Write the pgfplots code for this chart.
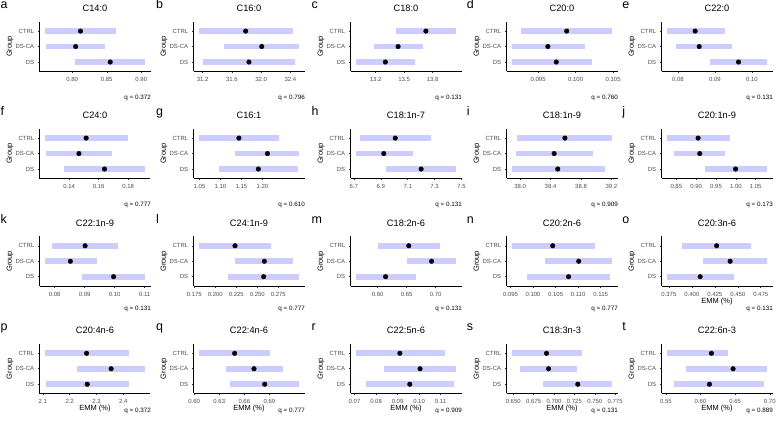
\documentclass[border=0pt]{standalone}
\usepackage{fontspec}
\setmainfont{Liberation Sans}
\usepackage{pgfplots}
\pgfplotsset{compat=1.18}
\definecolor{barcol}{RGB}{204,204,255}
\definecolor{gray30}{RGB}{77,77,77}
\definecolor{gray20}{RGB}{51,51,51}
\pgfplotsset{
 panel/.style={
   scale only axis, width=111bp, height=49.5bp, anchor=south west,
   ymin=0.4, ymax=3.6, ytick={1,2,3}, yticklabels={DS,DS-CA,CTRL},
   enlarge x limits=0.05,
   axis lines*=left, axis line style={black, line width=0.6bp},
   tick pos=left, tick align=outside, major tick length=1.8bp,
   every tick/.style={gray20, line width=0.5bp},
   tick label style={font=\fontsize{6}{7}\selectfont, text=gray30},
   /pgf/number format/assume math mode=true,
   xticklabel style={anchor=base, yshift=-8.6bp},
   yticklabel style={anchor=east},
   title style={font=\fontsize{9.3}{11}\selectfont, at={(0.5,1)}, anchor=base, yshift=4.5bp},
   ylabel=Group,
   ylabel style={at={(axis description cs:-0.266,0.5)}, anchor=center, font=\fontsize{7.5}{9}\selectfont},
   xlabel style={at={(axis description cs:0.5,-0.31)}, anchor=center, font=\fontsize{7.5}{9}\selectfont},
   clip=false,
 },
 bar/.style={barcol, line width=5.8bp, line cap=butt, forget plot},
 pt/.style={only marks, mark=*, mark size=2.3bp, black},
}
\newcommand{\tag}[3]{\node[anchor=base west, inner sep=0pt, font=\fontsize{12.5}{14}\selectfont] at (#1bp,#2bp) {#3};}
\newcommand{\qv}[3]{\node[anchor=base east, inner sep=0pt, font=\fontsize{6.3}{7}\selectfont] at (#1bp,#2bp) {q = #3};}
\begin{document}
\begin{tikzpicture}
\useasboundingbox (0,0) rectangle (777bp,423bp);
% ---------------- Row 1
\begin{axis}[panel, at={(39.5bp,351.7bp)}, title={C14:0}, xtick={0.80,0.85,0.90}, xticklabels={0.80,0.85,0.90}]
\addplot[bar] coordinates {(0.760,3) (0.864,3)};
\addplot[bar] coordinates {(0.762,2) (0.847,2)};
\addplot[bar] coordinates {(0.804,1) (0.906,1)};
\addplot[pt] coordinates {(0.812,3) (0.805,2) (0.855,1)};
\end{axis}
\begin{axis}[panel, at={(193.5bp,351.7bp)}, title={C16:0}, xtick={31.2,31.6,32.0,32.4}, xticklabels={31.2,31.6,32.0,32.4}]
\addplot[bar] coordinates {(31.145,3) (32.432,3)};
\addplot[bar] coordinates {(31.494,2) (32.524,2)};
\addplot[bar] coordinates {(31.200,1) (32.469,1)};
\addplot[pt] coordinates {(31.789,3) (32.009,2) (31.834,1)};
\end{axis}
\begin{axis}[panel, at={(350.5bp,351.7bp)}, title={C18:0}, xtick={13.2,13.5,13.8}, xticklabels={13.2,13.5,13.8}]
\addplot[bar] coordinates {(13.415,3) (14.051,3)};
\addplot[bar] coordinates {(13.182,2) (13.694,2)};
\addplot[bar] coordinates {(12.988,1) (13.616,1)};
\addplot[pt] coordinates {(13.729,3) (13.436,2) (13.302,1)};
\end{axis}
\begin{axis}[panel, at={(506.5bp,351.7bp)}, title={C20:0}, xtick={0.095,0.100,0.105}, xticklabels={0.095,0.100,0.105}]
\addplot[bar] coordinates {(0.09276,3) (0.10491,3)};
\addplot[bar] coordinates {(0.09146,2) (0.10119,2)};
\addplot[bar] coordinates {(0.09146,1) (0.10217,1)};
\addplot[pt] coordinates {(0.09881,3) (0.0963,2) (0.09742,1)};
\end{axis}
\begin{axis}[panel, at={(661.5bp,351.7bp)}, title={C22:0}, xtick={0.08,0.09,0.10}, xticklabels={0.08,0.09,0.10}]
\addplot[bar] coordinates {(0.07691,3) (0.09273,3)};
\addplot[bar] coordinates {(0.07945,2) (0.09464,2)};
\addplot[bar] coordinates {(0.08855,1) (0.10418,1)};
\addplot[pt] coordinates {(0.08464,3) (0.08573,2) (0.09636,1)};
\end{axis}
% ---------------- Row 2
\begin{axis}[panel, at={(39.5bp,244.7bp)}, title={C24:0}, xtick={0.14,0.16,0.18}, xticklabels={0.14,0.16,0.18}]
\addplot[bar] coordinates {(0.12333,3) (0.17978,3)};
\addplot[bar] coordinates {(0.12400,2) (0.16933,2)};
\addplot[bar] coordinates {(0.13644,1) (0.19178,1)};
\addplot[pt] coordinates {(0.15156,3) (0.14667,2) (0.16400,1)};
\end{axis}
\begin{axis}[panel, at={(193.5bp,244.7bp)}, title={C16:1}, xtick={1.05,1.10,1.15,1.20}, xticklabels={1.05,1.10,1.15,1.20}]
\addplot[bar] coordinates {(1.0476,3) (1.2402,3)};
\addplot[bar] coordinates {(1.1343,2) (1.2884,2)};
\addplot[bar] coordinates {(1.0957,1) (1.2843,1)};
\addplot[pt] coordinates {(1.1439,3) (1.2121,2) (1.1904,1)};
\end{axis}
\begin{axis}[panel, at={(350.5bp,244.7bp)}, title={C18:1n-7}, xtick={6.7,6.9,7.1,7.3,7.5}, xticklabels={6.7,6.9,7.1,7.3,7.5}]
\addplot[bar] coordinates {(6.7425,3) (7.2725,3)};
\addplot[bar] coordinates {(6.7125,2) (7.1375,2)};
\addplot[bar] coordinates {(6.9425,1) (7.4625,1)};
\addplot[pt] coordinates {(7.0075,3) (6.9225,2) (7.2000,1)};
\end{axis}
\begin{axis}[panel, at={(506.5bp,244.7bp)}, title={C18:1n-9}, xtick={38.0,38.4,38.8,39.2}, xticklabels={38.0,38.4,38.8,39.2}]
\addplot[bar] coordinates {(37.966,3) (39.213,3)};
\addplot[bar] coordinates {(37.948,2) (38.955,2)};
\addplot[bar] coordinates {(37.888,1) (39.114,1)};
\addplot[pt] coordinates {(38.589,3) (38.447,2) (38.495,1)};
\end{axis}
\begin{axis}[panel, at={(661.5bp,244.7bp)}, title={C20:1n-9}, xtick={0.85,0.90,0.95,1.00,1.05}, xticklabels={0.85,0.90,0.95,1.00,1.05}]
\addplot[bar] coordinates {(0.8254,3) (0.9852,3)};
\addplot[bar] coordinates {(0.8451,2) (0.9730,2)};
\addplot[bar] coordinates {(0.9213,1) (1.0795,1)};
\addplot[pt] coordinates {(0.9049,3) (0.9090,2) (0.9992,1)};
\end{axis}
% ---------------- Row 3
\begin{axis}[panel, at={(39.5bp,137bp)}, title={C22:1n-9}, xtick={0.08,0.09,0.10,0.11}, xticklabels={0.08,0.09,0.10,0.11}]
\addplot[bar] coordinates {(0.07922,3) (0.10100,3)};
\addplot[bar] coordinates {(0.07665,2) (0.09408,2)};
\addplot[bar] coordinates {(0.08905,1) (0.11028,1)};
\addplot[pt] coordinates {(0.09017,3) (0.08525,2) (0.09966,1)};
\end{axis}
\begin{axis}[panel, at={(193.5bp,137bp)}, title={C24:1n-9}, xtick={0.175,0.200,0.225,0.250,0.275}, xticklabels={0.175,0.200,0.225,0.250,0.275}]
\addplot[bar] coordinates {(0.18004,3) (0.26647,3)};
\addplot[bar] coordinates {(0.22384,2) (0.29244,2)};
\addplot[bar] coordinates {(0.21492,1) (0.30019,1)};
\addplot[pt] coordinates {(0.22345,3) (0.25833,2) (0.25756,1)};
\end{axis}
\begin{axis}[panel, at={(350.5bp,137bp)}, title={C18:2n-6}, xtick={0.60,0.65,0.70}, xticklabels={0.60,0.65,0.70}]
\addplot[bar] coordinates {(0.6000,3) (0.7071,3)};
\addplot[bar] coordinates {(0.6513,2) (0.7357,2)};
\addplot[bar] coordinates {(0.5620,1) (0.6655,1)};
\addplot[pt] coordinates {(0.6536,3) (0.6929,2) (0.6138,1)};
\end{axis}
\begin{axis}[panel, at={(506.5bp,137bp)}, title={C20:2n-6}, xtick={0.095,0.100,0.105,0.110,0.115}, xticklabels={0.095,0.100,0.105,0.110,0.115}]
\addplot[bar] coordinates {(0.09522,3) (0.11373,3)};
\addplot[bar] coordinates {(0.10272,2) (0.11762,2)};
\addplot[bar] coordinates {(0.09875,1) (0.11702,1)};
\addplot[pt] coordinates {(0.10436,3) (0.11013,2) (0.10788,1)};
\end{axis}
\begin{axis}[panel, at={(661.5bp,137bp)}, title={C20:3n-6}, xlabel={EMM (\%)}, xtick={0.375,0.400,0.425,0.450,0.475}, xticklabels={0.375,0.400,0.425,0.450,0.475}]
\addplot[bar] coordinates {(0.38892,3) (0.46474,3)};
\addplot[bar] coordinates {(0.41163,2) (0.48233,2)};
\addplot[bar] coordinates {(0.37244,1) (0.44643,1)};
\addplot[pt] coordinates {(0.42701,3) (0.44167,2) (0.40907,1)};
\end{axis}
% ---------------- Row 4
\begin{axis}[panel, at={(39.5bp,29.5bp)}, title={C20:4n-6}, xlabel={EMM (\%)}, xtick={2.1,2.2,2.3,2.4}, xticklabels={2.1,2.2,2.3,2.4}]
\addplot[bar] coordinates {(2.1063,3) (2.4225,3)};
\addplot[bar] coordinates {(2.2280,2) (2.4827,2)};
\addplot[bar] coordinates {(2.1100,1) (2.4225,1)};
\addplot[pt] coordinates {(2.2631,3) (2.3547,2) (2.2656,1)};
\end{axis}
\begin{axis}[panel, at={(193.5bp,29.5bp)}, title={C22:4n-6}, xlabel={EMM (\%)}, xtick={0.60,0.63,0.66,0.69}, xticklabels={0.60,0.63,0.66,0.69}]
\addplot[bar] coordinates {(0.6052,3) (0.6912,3)};
\addplot[bar] coordinates {(0.6380,2) (0.7060,2)};
\addplot[bar] coordinates {(0.6428,1) (0.7260,1)};
\addplot[pt] coordinates {(0.6484,3) (0.6716,2) (0.6844,1)};
\end{axis}
\begin{axis}[panel, at={(350.5bp,29.5bp)}, title={C22:5n-6}, xlabel={EMM (\%)}, xtick={0.07,0.08,0.09,0.10,0.11}, xticklabels={0.07,0.08,0.09,0.10,0.11}]
\addplot[bar] coordinates {(0.07046,3) (0.11185,3)};
\addplot[bar] coordinates {(0.08385,2) (0.11738,2)};
\addplot[bar] coordinates {(0.07538,1) (0.11646,1)};
\addplot[pt] coordinates {(0.09108,3) (0.10046,2) (0.09569,1)};
\end{axis}
\begin{axis}[panel, at={(506.5bp,29.5bp)}, title={C18:3n-3}, xlabel={EMM (\%)}, xtick={0.650,0.675,0.700,0.725,0.750,0.775}, xticklabels={0.650,0.675,0.700,0.725,0.750,0.775}]
\addplot[bar] coordinates {(0.64794,3) (0.73375,3)};
\addplot[bar] coordinates {(0.65825,2) (0.72838,2)};
\addplot[bar] coordinates {(0.68630,1) (0.77170,1)};
\addplot[pt] coordinates {(0.69084,3) (0.69332,2) (0.72921,1)};
\end{axis}
\begin{axis}[panel, at={(661.5bp,29.5bp)}, title={C22:6n-3}, xlabel={EMM (\%)}, xtick={0.55,0.60,0.65,0.70}, xticklabels={0.55,0.60,0.65,0.70}]
\addplot[bar] coordinates {(0.55095,3) (0.63940,3)};
\addplot[bar] coordinates {(0.57838,2) (0.69664,2)};
\addplot[bar] coordinates {(0.56183,1) (0.69144,1)};
\addplot[pt] coordinates {(0.61575,3) (0.64700,2) (0.61292,1)};
\end{axis}
% ---------------- tags
\tag{0.5}{414.2}{a}\tag{155.9}{414.2}{b}\tag{311.3}{414.2}{c}\tag{466.7}{414.2}{d}\tag{622.1}{414.2}{e}
\tag{0.5}{307.2}{f}\tag{155.9}{307.2}{g}\tag{311.3}{307.2}{h}\tag{466.7}{307.2}{i}\tag{622.1}{307.2}{j}
\tag{0.5}{199.5}{k}\tag{155.9}{199.5}{l}\tag{311.3}{199.5}{m}\tag{466.7}{199.5}{n}\tag{622.1}{199.5}{o}
\tag{0.5}{92}{p}\tag{155.9}{92}{q}\tag{311.3}{92}{r}\tag{466.7}{92}{s}\tag{622.1}{92}{t}
% ---------------- q values
\qv{151}{323.5}{0.372}\qv{305}{323.5}{0.796}\qv{462}{323.5}{0.131}\qv{618}{323.5}{0.760}\qv{773}{323.5}{0.131}
\qv{151}{216.5}{0.777}\qv{305}{216.5}{0.610}\qv{462}{216.5}{0.131}\qv{618}{216.5}{0.909}\qv{773}{216.5}{0.173}
\qv{151}{112.8}{0.131}\qv{305}{112.8}{0.777}\qv{462}{112.8}{0.131}\qv{618}{112.8}{0.777}\qv{773}{112.8}{0.131}
\qv{151}{10.8}{0.372}\qv{305}{10.8}{0.777}\qv{462}{10.8}{0.909}\qv{618}{10.8}{0.131}\qv{773}{10.8}{0.889}
\end{tikzpicture}
\end{document}
